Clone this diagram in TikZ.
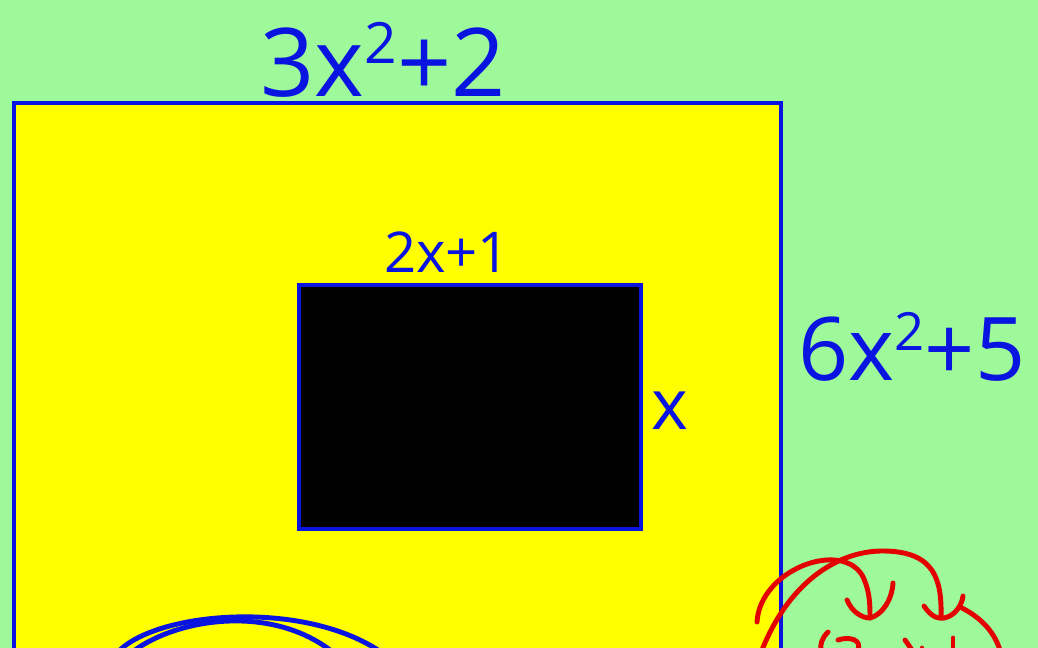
\documentclass[tikz,border=0pt]{standalone}
\usepackage{fontspec}
\setmainfont{Open Sans}
\usetikzlibrary{calc}
\definecolor{bggreen}{RGB}{158,249,154}
\definecolor{penblue}{RGB}{10,20,225}
\definecolor{penred}{RGB}{228,0,0}
\definecolor{boxyellow}{RGB}{255,255,0}
\newcommand{\sq}{\raisebox{0.35em}{\scalebox{0.6}{2}}}
\tikzset{
  box/.style={draw=penblue, line width=2.2pt, inner sep=0pt, anchor=north west},
  lbl/.style={text=penblue, inner sep=0pt},
  ink/.style={line width=2.8pt, line cap=round, line join=round},
}
\begin{document}
\begin{tikzpicture}[x=0.02cm,y=-0.02cm]
\useasboundingbox (0,0) rectangle (1038,648);
\clip (0,0) rectangle (1038,648);
\fill[bggreen] (0,0) rectangle (1038,648);
% outer yellow rectangle
\node[box, fill=boxyellow, minimum width=767*0.02cm, minimum height=560*0.02cm] (outer) at (12,101) {};
% inner black rectangle
\node[box, fill=black, minimum width=342*0.02cm, minimum height=244*0.02cm] (inner) at (297,283) {};
% labels
\node[lbl, font=\fontsize{54}{54}\selectfont, anchor=base] (top) at (383,97) {3x\sq+2};
\node[lbl, font=\fontsize{32}{32}\selectfont, anchor=base] (itop) at (447,273) {2x+1};
\node[lbl, font=\fontsize{50}{50}\selectfont, anchor=base] (right) at (912,381) {6x\sq+5};
\node[lbl, font=\fontsize{40}{40}\selectfont, anchor=base] (iright) at (670,430) {x};
% blue arcs at bottom
\draw[penblue, ink] (120,650) .. controls (160,612) and (300,600) .. (378,650);
\draw[penblue, ink] (135,650) .. controls (180,618) and (270,605) .. (330,650);
% red arcs with arrowheads
\draw[penred, ink] (757,622) .. controls (760,570) and (840,540) .. (862,575) .. controls (870,590) and (870,605) .. (870,618);
\draw[penred, ink] (847,600) .. controls (852,612) and (862,618) .. (870,618) .. controls (882,615) and (892,600) .. (893,583);
\draw[penred, ink] (762,650) .. controls (790,580) and (840,550) .. (885,551) .. controls (935,552) and (942,580) .. (941,618);
\draw[penred, ink] (924,606) .. controls (930,615) and (936,619) .. (944,618) .. controls (955,616) and (962,605) .. (963,596);
\draw[penred, ink] (962,608) .. controls (985,620) and (995,635) .. (1000,650);
% partial red writing at bottom
\draw[penred, ink] (828,632) .. controls (822,638) and (820,644) .. (821,650);
\draw[penred, ink] (838,640) .. controls (850,636) and (862,640) .. (858,650);
\draw[penred, ink] (905,640) -- (912,650);
\draw[penred, ink] (922,648) -- (922,650);
\draw[penred, ink] (953,638) -- (953,650);
\end{tikzpicture}
\end{document}
